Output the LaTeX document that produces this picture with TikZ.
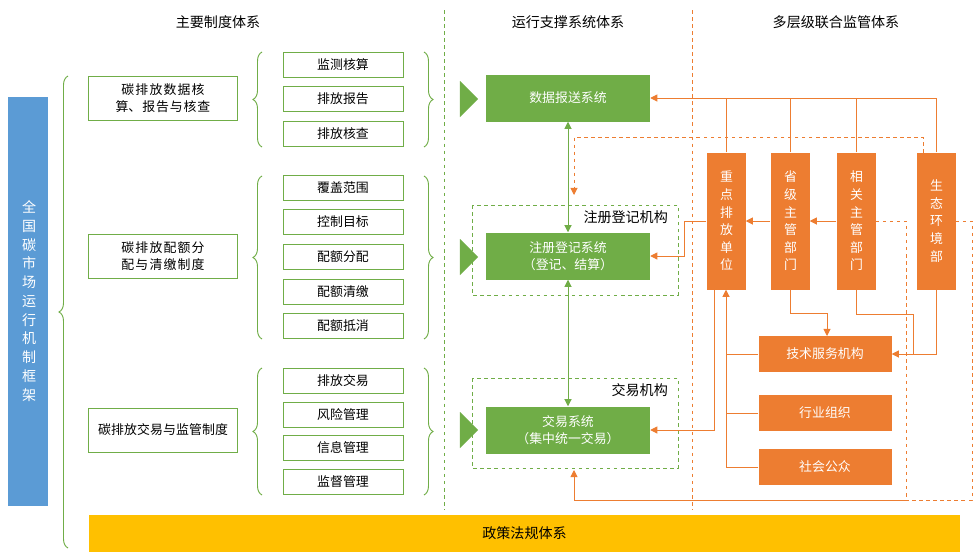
\documentclass[tikz,border=0pt]{standalone}
\usepackage{fontspec}
\setmainfont{Noto Sans CJK SC}
\XeTeXlinebreaklocale "zh"
\XeTeXlinebreakskip=0pt plus 1pt
\usetikzlibrary{arrows.meta,shapes.arrows,decorations.pathreplacing}
\newcommand{\pw}{0.03cm}
\definecolor{frgreen}{HTML}{70AD47}
\definecolor{frorange}{HTML}{ED7D31}
\definecolor{frblue}{HTML}{5B9BD5}
\definecolor{fryellow}{HTML}{FFC000}
\tikzset{
  sys/.style={fill=frgreen, text=white, align=center, minimum width=164*\pw, minimum height=47*\pw, font=\fontsize{11}{14}\selectfont},
  item/.style={draw=frgreen, thick, minimum width=120*\pw, minimum height=25*\pw, font=\fontsize{11}{13}\selectfont},
  rule/.style={draw=frgreen, thick, text width=135*\pw, align=center, minimum width=149*\pw, minimum height=44*\pw, font=\fontsize{11}{14}\selectfont},
  dept/.style={fill=frorange, text=white, text width=1em, align=center, minimum width=39*\pw, minimum height=137*\pw, font=\fontsize{11}{15}\selectfont},
  org/.style={fill=frorange, text=white, minimum width=133*\pw, minimum height=36*\pw, font=\fontsize{11}{13}\selectfont},
  gbrace/.style={draw=frgreen, thick, decorate, decoration={brace, amplitude=9*\pw}},
  oline/.style={draw=frorange, thick},
  oarrow/.style={oline, -{Triangle[length=6pt,width=6pt]}},
  odash/.style={oline, dashed},
  title/.style={font=\fontsize{12}{14}\selectfont},
}
\begin{document}
\begin{tikzpicture}[x=\pw, y=-\pw]
\useasboundingbox (0,0) rectangle (976,558);
% headings
\node[title] (h1) at (218,22) {主要制度体系};
\node[title] (h2) at (568,22) {运行支撑系统体系};
\node[title] (h3) at (836,22) {多层级联合监管体系};
\draw[frgreen, dashed, thick] (444,10) -- (444,510);
\draw[odash] (692,10) -- (692,510);
% left column
\node[fill=frblue, text=white, text width=1em, align=center, minimum width=40*\pw, minimum height=409*\pw, font=\fontsize{12}{16}\selectfont] (frame) at (28,301) {全国碳市场运行机制框架};
\draw[gbrace] (68,548) -- (68,76);
\node[rule] (r1) at (163,98) {碳排放数据核算、报告与核查};
\node[rule] (r2) at (163,256) {碳排放配额分配与清缴制度};
\node[rule] (r3) at (163,430) {碳排放交易与监管制度};
\node[item] (i1) at (343,65) {监测核算};
\node[item] (i2) at (343,99) {排放报告};
\node[item] (i3) at (343,134) {排放核查};
\node[item] (i4) at (343,188) {覆盖范围};
\node[item] (i5) at (343,222) {控制目标};
\node[item] (i6) at (343,257) {配额分配};
\node[item] (i7) at (343,292) {配额清缴};
\node[item] (i8) at (343,326) {配额抵消};
\node[item] (i9) at (343,381) {排放交易};
\node[item] (i10) at (343,415) {风险管理};
\node[item] (i11) at (343,448) {信息管理};
\node[item] (i12) at (343,482) {监督管理};
\draw[gbrace] (262,147) -- (262,52);
\draw[gbrace] (262,339) -- (262,176);
\draw[gbrace] (262,495) -- (262,368);
\draw[gbrace] (424,52) -- (424,147);
\draw[gbrace] (424,176) -- (424,339);
\draw[gbrace] (424,368) -- (424,495);
\foreach \y in {99,257,430}
  \node[single arrow, fill=frgreen, minimum width=36*\pw, single arrow head extend=0pt, minimum height=17*\pw, inner sep=0pt] at (460,\y) {};
% middle column
\draw[frgreen, dashed, thick] (472,205) rectangle (678,295);
\draw[frgreen, dashed, thick] (472,378) rectangle (678,468);
\node[title, anchor=east] (regorg) at (672,217) {注册登记机构};
\node[title, anchor=east] (tradeorg) at (672,390) {交易机构};
\node[sys] (data) at (568,98) {数据报送系统};
\node[sys] (reg) at (568,256) {注册登记系统\\（登记、结算）};
\node[sys] (trade) at (568,430) {交易系统\\（集中统一交易）};
\draw[frgreen, thick, {Triangle[length=6pt,width=6pt]}-{Triangle[length=6pt,width=6pt]}] (data.south) -- (reg.north);
\draw[frgreen, thick, {Triangle[length=6pt,width=6pt]}-{Triangle[length=6pt,width=6pt]}] (reg.south) -- (trade.north);
% right column
\node[dept] (key) at (726,221) {重点排放单位};
\node[dept] (prov) at (790,221) {省级主管部门};
\node[dept] (rel) at (856,221) {相关主管部门};
\node[dept] (eco) at (936,221) {生态环境部};
\node[org] (tech) at (825,354) {技术服务机构};
\node[org] (ind) at (825,413) {行业组织};
\node[org] (pub) at (825,467) {社会公众};
\draw[oarrow] (eco.north) |- (data.east);
\foreach \n in {key,prov,rel}
  \draw[oline] (\n.north) -- (\n.north |- data.east);
\draw[oarrow] (rel.west) -- (prov.east);
\draw[oarrow] (prov.west) -- (key.east);
\draw[oarrow] (key.west) -- (684,221) |- (reg.east);
\draw[oarrow] (714,290) |- (trade.east);
\draw[oarrow] (pub.west) -| (key.south);
\draw[oline] (tech.west) -- (key.south |- tech.west);
\draw[oline] (ind.west) -- (key.south |- ind.west);
\draw[oarrow] (prov.south) -- (790,313) -| (827,336);
\draw[oarrow] (rel.south) -- (856,314) -| (913,354) -- (tech.east);
\draw[oline] (eco.south) |- (913,354);
\draw[odash, -{Triangle[length=6pt,width=6pt]}] (923,153) -- (923,137) -| (574,195);
\draw[odash] (rel.east) -| (906,500);
\draw[odash] (eco.east) -| (972,500) -- (906,500);
\draw[oarrow] (906,500) -| (574,470);
% bottom
\node[fill=fryellow, minimum width=871*\pw, minimum height=37*\pw, font=\fontsize{12}{14}\selectfont] (law) at (524.5,533) {政策法规体系};
\end{tikzpicture}
\end{document}
